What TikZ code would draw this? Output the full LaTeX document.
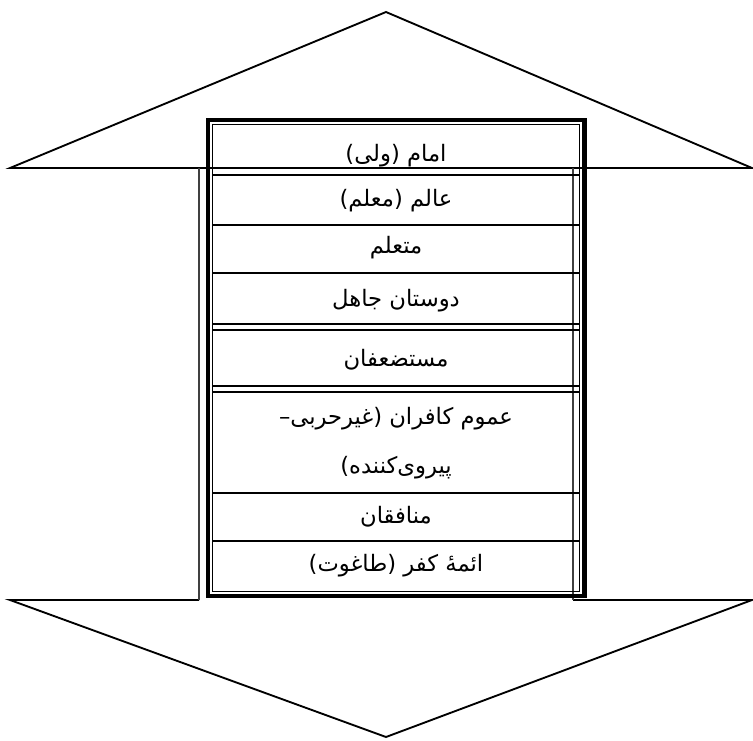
\documentclass[tikz,border=0pt]{standalone}
\usepackage{fontspec}
\newfontfamily\arabicfont[Script=Arabic]{DejaVu Sans}
\TeXXeTstate=1
\begin{document}
\begin{tikzpicture}[x=0.75pt,y=-0.75pt,
  rowtext/.style={font=\arabicfont\fontsize{17}{22}\selectfont, inner sep=0pt, anchor=base},
  sep/.style={line width=1.2pt},
  shaft/.style={black!75, line width=1.4pt}]
  \useasboundingbox (0,0) rectangle (753,740);
  % Arrow heads
  \draw[line width=1.4pt, line join=miter] (10,168) -- (386,12) -- (752,168) -- cycle;
  \draw[line width=1.4pt, line join=miter] (199,600) -- (10,600) -- (386,737) -- (752,600) -- (573,600);
  % Shaft
  \draw[shaft] (199,168) -- (199,600);
  \draw[shaft] (573,168) -- (573,600);
  % Table frame
  \draw[line width=3.2pt] (208,120) rectangle (584.5,596);
  \draw[line width=1.1pt] (212.5,124.5) rectangle (579.5,591.5);
  % Row lines
  \foreach \y in {175,225,273,324,330,386,392,493,541}
    \draw[sep] (212.5,\y) -- (579.5,\y);
  % Rows
  \node[rowtext] (imam) at (396,161) {\beginR امام (ولی)\endR};
  \node[rowtext] (alim) at (396,206) {\beginR عالم (معلم)\endR};
  \node[rowtext] (mutaallim) at (396,253) {\beginR متعلم\endR};
  \node[rowtext] (dustan) at (396,306) {\beginR دوستان جاهل\endR};
  \node[rowtext] (mustazafan) at (396,366) {\beginR مستضعفان\endR};
  \node[rowtext] (kafiran) at (396,424) {\beginR عموم کافران (غیرحربی–\endR};
  \node[rowtext] (kafiranb) at (396,473) {\beginR پیروی‌کننده)\endR};
  \node[rowtext] (munafiqan) at (396,523) {\beginR منافقان\endR};
  \node[rowtext] (aimma) at (396,571) {\beginR ائمهٔ کفر (طاغوت)\endR};
\end{tikzpicture}
\end{document}
